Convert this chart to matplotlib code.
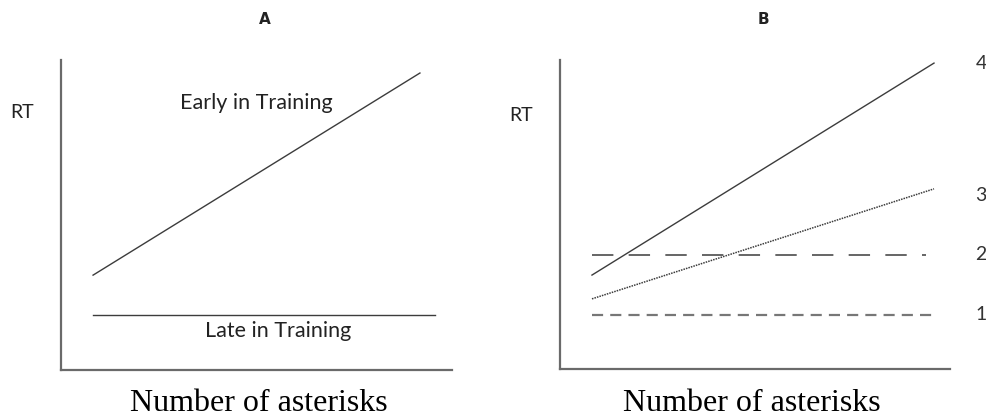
"""Two schematic RT plots: practice effect (A) and four conditions (B)."""

import matplotlib
matplotlib.use('Agg')
import matplotlib.pyplot as plt

# Panel A data (arbitrary units: number of asterisks vs RT)
a_x = [0.82, 9.18]
a_early = [3.06, 9.58]
a_late_x = [0.82, 9.57]
a_late = [1.77, 1.77]

# Panel B data
b_x4 = [0.82, 9.59]
b_y4 = [3.04, 9.90]
b_x3 = [0.82, 9.59]
b_y3 = [2.27, 5.83]
b_x2 = [0.82, 9.38]
b_y2 = [3.69, 3.69]
b_x1 = [0.82, 9.54]
b_y1 = [1.75, 1.75]
b_labels = ['4', '3', '2', '1']
b_label_y = [9.90, 5.60, 3.69, 1.75]

W, H = 987, 419
fig = plt.figure(figsize=(W / 100, H / 100), dpi=100)
fig.patch.set_facecolor('white')

SANS = ['Lato', 'DejaVu Sans']
BOLD = ['DejaVu Sans']
SERIF = ['Liberation Serif', 'DejaVu Serif']
LINE_C = '#3c3c3c'
SPINE_C = '#6a6a6a'
TXT_C = '#222222'


def make_axes(left, right, top, bottom):
    ax = fig.add_axes([left / W, (H - bottom) / H, (right - left) / W, (bottom - top) / H])
    ax.set_xlim(0, 10)
    ax.set_ylim(0, 10)
    for s in ('top', 'right'):
        ax.spines[s].set_visible(False)
    for s in ('left', 'bottom'):
        ax.spines[s].set_color(SPINE_C)
        ax.spines[s].set_linewidth(1.6)
    ax.set_xticks([])
    ax.set_yticks([])
    return ax


# ---- Panel A
axA = make_axes(61, 452, 60, 370)
axA.plot(a_x, a_early, color=LINE_C, lw=1.0)
axA.plot(a_late_x, a_late, color=LINE_C, lw=1.0)
axA.text(5.0, 8.6, 'Early in Training', ha='center', va='center',
         fontsize=15.5, family=SANS, color=TXT_C)
axA.text(5.55, 1.25, 'Late in Training', ha='center', va='center',
         fontsize=15.5, family=SANS, color=TXT_C)
fig.text(22 / W, 1 - 112 / H, 'RT', ha='center', va='center',
         fontsize=14, family=SANS, color=TXT_C)
fig.text(265 / W, 1 - 19 / H, 'A', ha='center', va='center',
         fontsize=11, fontweight='bold', family=BOLD, color=TXT_C)
fig.text(259 / W, 1 - 403 / H, 'Number of asterisks', ha='center', va='center',
         fontsize=23, family=SERIF, color='black')

# ---- Panel B
axB = make_axes(560, 950, 60, 369)
axB.plot(b_x4, b_y4, color=LINE_C, lw=1.0)
axB.plot(b_x3, b_y3, color=LINE_C, lw=1.1, linestyle=(0, (1, 0.7)))
axB.plot(b_x2, b_y2, color=LINE_C, lw=1.1, linestyle=(0, (14, 10)))
axB.plot(b_x1, b_y1, color='#777777', lw=1.6, linestyle=(0, (5, 3.2)))
for lab, ly in zip(b_labels, b_label_y):
    axB.text(10.8, ly, lab, ha='center', va='center', fontsize=14,
             family=SANS, color='#333333', clip_on=False)
fig.text(521 / W, 1 - 115 / H, 'RT', ha='center', va='center',
         fontsize=14, family=SANS, color=TXT_C)
fig.text(763 / W, 1 - 19 / H, 'B', ha='center', va='center',
         fontsize=11, fontweight='bold', family=BOLD, color=TXT_C)
fig.text(752 / W, 1 - 403 / H, 'Number of asterisks', ha='center', va='center',
         fontsize=23, family=SERIF, color='black')

fig.savefig('out.png', dpi=100, facecolor='white')
